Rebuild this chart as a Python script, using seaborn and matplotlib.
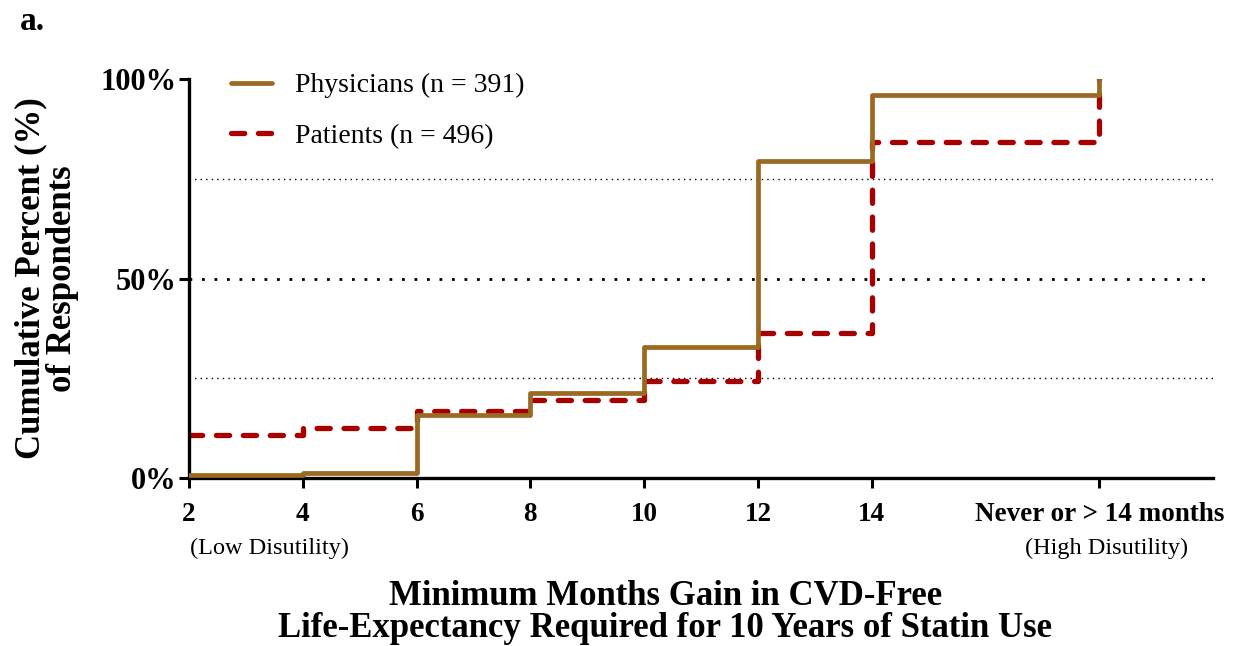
import matplotlib
matplotlib.use("Agg")
import matplotlib.pyplot as plt
import seaborn as sns
import pandas as pd

# Data
months = [2, 4, 6, 8, 10, 12, 14, 18, 18]
physicians = [0.7, 1.2, 15.8, 21.3, 32.8, 79.4, 96.0, 96.0, 100.0]
patients = [10.8, 12.5, 16.8, 19.5, 24.3, 36.3, 84.2, 84.2, 100.0]
tick_pos = [2, 4, 6, 8, 10, 12, 14, 18]
tick_labels = ["2", "4", "6", "8", "10", "12", "14", "Never or > 14 months"]
series_names = ["Physicians (n = 391)", "Patients (n = 496)"]

df = pd.DataFrame({
    "x": months + months,
    "y": physicians + patients,
    "group": [series_names[0]] * len(months) + [series_names[1]] * len(months),
})

sns.set_style("white")
plt.rcParams["font.family"] = ["Liberation Serif", "DejaVu Serif"]
plt.rcParams["text.color"] = "black"
plt.rcParams["axes.labelcolor"] = "black"
plt.rcParams["xtick.color"] = "black"
plt.rcParams["ytick.color"] = "black"

fig = plt.figure(figsize=(12.33, 6.46), dpi=100)
ax = fig.add_axes([0.1533, 0.26, 0.8305, 0.6177])

# reference lines
ax.axhline(25, color="black", lw=1.0, ls=(0, (1, 3)), zorder=1)
ax.axhline(75, color="black", lw=1.0, ls=(0, (1, 3)), zorder=1)
ax.axhline(50, color="black", lw=2.0, ls=(0, (1, 3.5)), zorder=1)

colors = {series_names[0]: "#9A6A22", series_names[1]: "#A80000"}
sns.lineplot(data=df[df.group == series_names[0]], x="x", y="y", ax=ax,
             color=colors[series_names[0]], lw=3.4, drawstyle="steps-post",
             estimator=None, sort=False, label=series_names[0], zorder=3)
sns.lineplot(data=df[df.group == series_names[1]], x="x", y="y", ax=ax,
             color=colors[series_names[1]], lw=3.8, drawstyle="steps-post",
             estimator=None, sort=False, label=series_names[1], zorder=2,
             dashes=False)
line2 = ax.get_lines()[-1]
line2.set_linestyle((0, (2.5, 2.6)))
line2.set_dash_capstyle("round")

ax.set_xlim(2, 20)
ax.set_ylim(0, 100)
ax.set_xticks(tick_pos)
ax.set_xticklabels(tick_labels, fontsize=19.5, fontweight="bold")
ax.set_yticks([0, 50, 100])
ax.set_yticklabels(["0%", "50%", "100%"], fontsize=22, fontweight="bold")

for s in ["top", "right"]:
    ax.spines[s].set_visible(False)
for s in ["left", "bottom"]:
    ax.spines[s].set_linewidth(2.4)
    ax.spines[s].set_color("black")
ax.tick_params(axis="x", direction="out", length=7, width=2.2, color="black",
               bottom=True, pad=10)
ax.tick_params(axis="y", direction="out", length=7, width=2.2, color="black",
               left=True, pad=2)

ax.set_xlabel("Minimum Months Gain in CVD-Free\nLife-Expectancy Required for 10 Years of Statin Use",
              fontsize=25, fontweight="bold", linespacing=0.95)
ax.xaxis.set_label_coords(0.465, -0.255, transform=ax.transAxes)
ax.xaxis.label.set_va("top")
ax.set_ylabel("Cumulative Percent (%)\nof Respondents", fontsize=25, fontweight="bold",
              linespacing=0.98)
ax.yaxis.set_label_coords(-0.107, 0.5, transform=ax.transAxes)

fig.text(0.154, 0.151, "(Low Disutility)", fontsize=17.5, ha="left", va="center")
fig.text(0.9635, 0.151, "(High Disutility)", fontsize=17.5, ha="right", va="center")
fig.text(0.016, 0.966, "a.", fontsize=24, fontweight="bold", ha="left", va="center")

leg = ax.legend(loc="upper left", bbox_to_anchor=(0.017, 1.078), frameon=False,
                fontsize=20, handlelength=1.45, labelspacing=0.9, handletextpad=0.85)

fig.savefig("out.png", dpi=100)
